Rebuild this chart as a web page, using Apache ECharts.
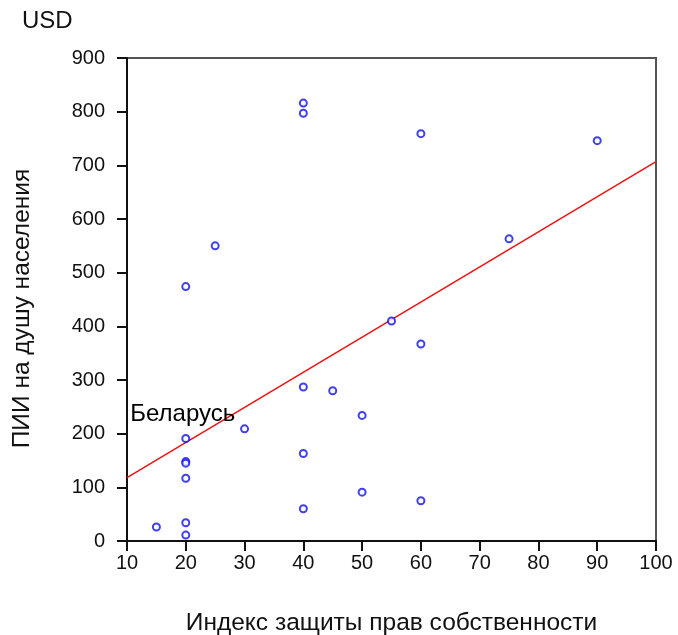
<!DOCTYPE html>
<html><head><meta charset="utf-8">
<script src="https://cdn.jsdelivr.net/npm/echarts@6/dist/echarts.min.js"></script>
<style>html,body{margin:0;padding:0;background:#fff}#c{width:678px;height:635px}</style>
</head><body><div id="c"></div>
<script>
// Scatter data: property rights index vs FDI per capita (USD)
const pointsX = [40, 40, 25, 20, 60, 90, 75, 55, 40, 45, 50, 30, 20, 20, 20, 40, 20, 50, 40, 15, 20, 20, 60, 60];
const pointsY = [816, 797, 550, 474, 759, 746, 563, 410, 287, 280, 234, 209, 191, 148, 145, 163, 117, 91, 60, 26, 34, 11, 367, 75];
const labelIndex = 12; // Belarus
const labelText = 'Беларусь';
// Regression line endpoints
const fitX = [10, 100];
const fitY = [118, 707];
const xTicks = [10, 100, 10];
const yTicks = [0, 900, 100];

const font = '"Liberation Sans", Arial, sans-serif';
const scatterData = pointsX.map((x, i) => {
  const d = { value: [x, pointsY[i]] };
  if (i === labelIndex) {
    d.label = { show: true, formatter: labelText, position: 'top', distance: 8, offset: [-3, 0],
      color: '#000', opacity: 1, fontSize: 24, fontFamily: font };
  }
  return d;
});

const chart = echarts.init(document.getElementById('c'));
chart.setOption({
  animation: false,
  grid: { left: 127, right: 22, top: 58, bottom: 94, outerBoundsMode: 'none', containLabel: false,
    show: true, borderColor: '#555', borderWidth: 2 },
  xAxis: {
    type: 'value', min: xTicks[0], max: xTicks[1], interval: xTicks[2],
    name: 'Индекс защиты прав собственности', nameLocation: 'middle', nameGap: 70,
    nameTextStyle: { color: '#111', fontSize: 24.5, fontFamily: font },
    axisLine: { show: true, lineStyle: { color: '#111', width: 2 } },
    axisTick: { show: true, inside: false, length: 10, lineStyle: { color: '#111', width: 2 } },
    axisLabel: { color: '#111', fontSize: 20, fontFamily: font, margin: 12 },
    splitLine: { show: false }
  },
  yAxis: {
    type: 'value', min: yTicks[0], max: yTicks[1], interval: yTicks[2],
    name: 'ПИИ на душу населения', nameLocation: 'middle', nameGap: 92, nameRotate: 90,
    nameTextStyle: { color: '#111', fontSize: 24.5, fontFamily: font, padding: [0, 18, 0, 0] },
    axisLine: { show: true, lineStyle: { color: '#111', width: 2 } },
    axisTick: { show: true, inside: false, length: 10, lineStyle: { color: '#111', width: 2 } },
    axisLabel: { color: '#111', fontSize: 20, fontFamily: font, margin: 22 },
    splitLine: { show: false }
  },
  graphic: [{ type: 'text', left: 22, top: 9, style: { text: 'USD', fill: '#111', fontSize: 24, fontFamily: font } }],
  series: [
    { type: 'line', data: fitX.map((x, i) => [x, fitY[i]]), symbol: 'none',
      lineStyle: { color: '#ee1111', width: 1.5 }, z: 2 },
    { type: 'scatter', data: scatterData, symbol: 'circle', symbolSize: 7,
      itemStyle: { color: '#fff', borderColor: '#1010ee', borderWidth: 2 }, z: 3 }
  ]
});
</script></body></html>
